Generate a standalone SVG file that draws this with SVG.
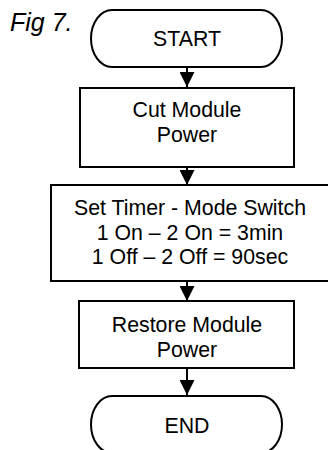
<svg xmlns="http://www.w3.org/2000/svg" width="328" height="450" viewBox="0 0 328 450">
<style>
.s{fill:#fff;stroke:#000;stroke-width:2}
.t{font-family:"Liberation Sans",Arial,sans-serif;font-size:21.3px;fill:#000;text-anchor:middle}
.c{stroke:#000;stroke-width:2;fill:none}
</style>
<defs>
<marker id="ah" markerUnits="userSpaceOnUse" markerWidth="16" markerHeight="15" refX="16" refY="8" orient="auto" viewBox="0 0 16 16">
<path d="M0,0 L16,8 L0,16 Z" fill="#000"/>
</marker>
</defs>
<rect width="328" height="450" fill="#fff"/>
<text x="10" y="31" font-family="Liberation Sans,Arial,sans-serif" font-size="25" font-style="italic">Fig 7.</text>
<g id="connectors">
<line class="c" x1="187" y1="67" x2="187" y2="87" marker-end="url(#ah)"/>
<line class="c" x1="187" y1="167" x2="187" y2="185" marker-end="url(#ah)"/>
<line class="c" x1="187" y1="281" x2="187" y2="301" marker-end="url(#ah)"/>
<line class="c" x1="187" y1="368" x2="187" y2="395" marker-end="url(#ah)"/>
</g>
<g id="start">
<rect class="s" x="91" y="10" width="191" height="57" rx="21" ry="28.5"/>
<text class="t" x="187" y="46">START</text>
</g>
<g id="cut">
<rect class="s" x="80" y="88" width="214" height="79"/>
<text class="t" x="187" y="117">Cut Module</text>
<text class="t" x="187" y="142">Power</text>
</g>
<g id="timer">
<rect class="s" x="51" y="185" width="280" height="96"/>
<text class="t" x="190" y="215">Set Timer - Mode Switch</text>
<text class="t" x="190" y="240">1 On – 2 On = 3min</text>
<text class="t" x="190" y="264">1 Off – 2 Off = 90sec</text>
</g>
<g id="restore">
<rect class="s" x="79" y="301" width="215" height="67"/>
<text class="t" x="187" y="332">Restore Module</text>
<text class="t" x="187" y="357">Power</text>
</g>
<g id="end">
<rect class="s" x="91" y="396" width="191" height="57" rx="21" ry="28.5"/>
<text class="t" x="187" y="433">END</text>
</g>
</svg>
